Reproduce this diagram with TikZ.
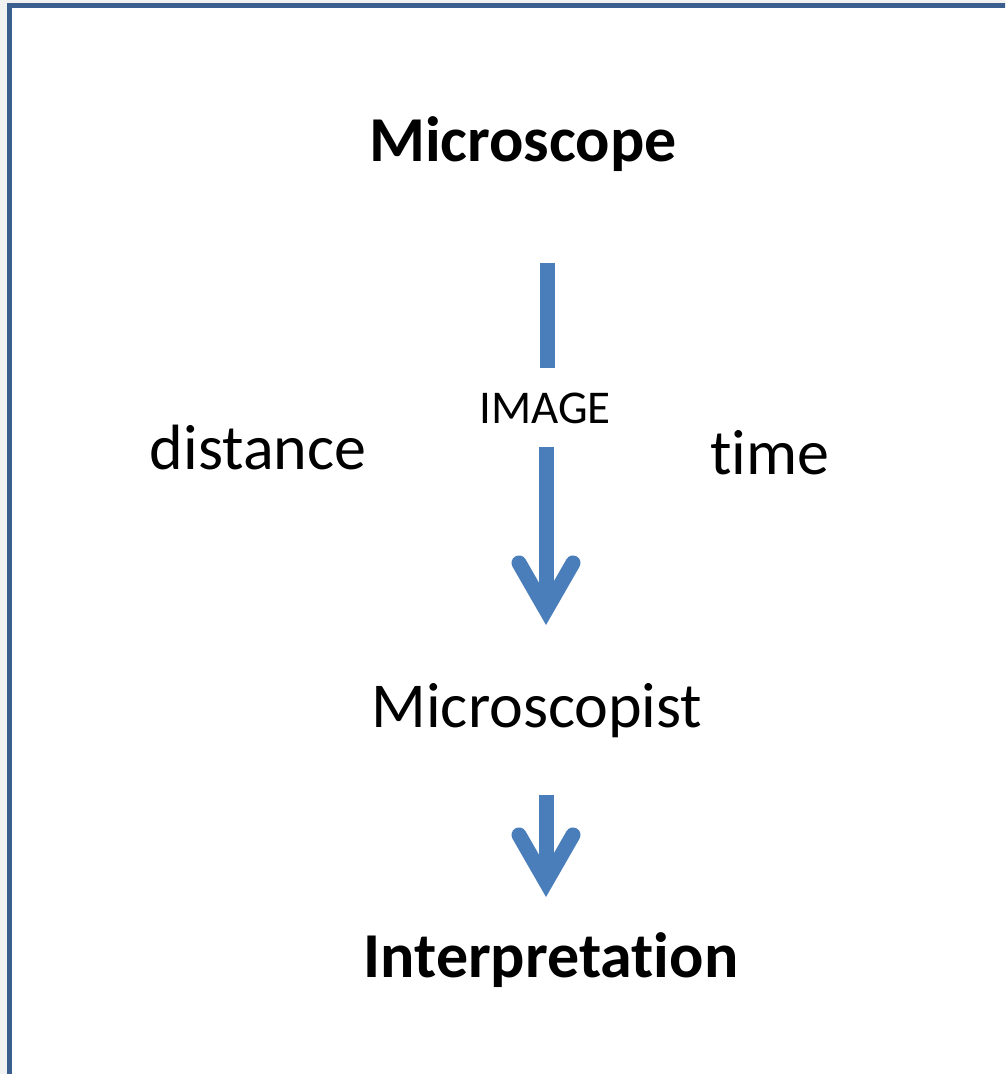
\documentclass[tikz,border=0pt]{standalone}
\usepackage{fontspec}
\setmainfont{Carlito}[RawFeature=-liga]
\usetikzlibrary{arrows.meta}
\definecolor{framecol}{HTML}{3B5F8E}
\definecolor{arrowcol}{HTML}{4A7EBB}

\begin{document}
\begin{tikzpicture}[x=1pt,y=-1pt,
    shaft/.style={line width=15pt,arrowcol},
    flow/.style={shaft,-{Straight Barb[length=47pt,width=54pt,line cap=round,line join=miter]}},
    word/.style={anchor=base,inner sep=0pt,font=\fontsize{64}{76}\selectfont},
    title/.style={word,font=\fontsize{64}{76}\selectfont\bfseries}]
\useasboundingbox (0,0) rectangle (1005,1074);
\fill[black!5] (0,0) rectangle (1005,1074);
\clip (0,0) rectangle (1005,1074);
\draw[framecol,line width=5pt,fill=white] (9.5,5.5) rectangle (1030,1100);

\node[title] (microscope) at (523,161) {Microscope};
\node[word] (distance) at (258,469) {distance};
\node[word] (time) at (770,474) {time};
\node[anchor=base,font=\fontsize{47}{56}\selectfont,text depth=0pt,inner xsep=0pt,inner ysep=24pt] (image) at (545,423) {IMAGE};
\node[word] (microscopist) at (537,727) {Microscopist};
\node[title] (interpretation) at (551,977) {Interpretation};

\coordinate (start1) at (547,263);
\coordinate (tip1) at (546,625);
\coordinate (start2) at (546,795);
\coordinate (tip2) at (546,897);

\draw[shaft] (start1) -- (start1 |- image.north);
\draw[flow] (image.south -| tip1) -- (tip1);
\draw[flow] (start2) -- (tip2);
\end{tikzpicture}
\end{document}
